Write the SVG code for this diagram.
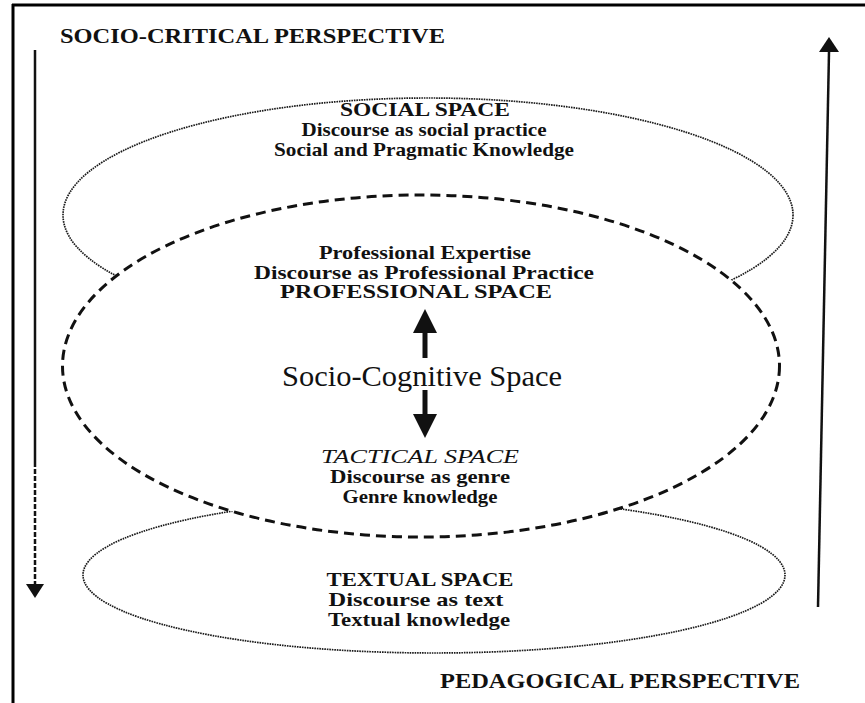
<svg xmlns="http://www.w3.org/2000/svg" width="865" height="703" viewBox="0 0 865 703">
<style>
text{font-family:"Liberation Serif","Times New Roman",serif;fill:#111}
.b{font-weight:bold;font-size:19.5px}
.it{font-style:italic;font-size:19.5px}
.h{font-weight:bold;font-size:20.5px}
.dot{fill:none;stroke:#1a1a1a;stroke-width:1.7;stroke-dasharray:1.6 0.9}
.dash{fill:none;stroke:#111;stroke-width:3;stroke-dasharray:10 6}
.ln{stroke:#111;stroke-width:2.5;fill:none}
</style>
<defs>
<mask id="outside" maskUnits="userSpaceOnUse" x="0" y="0" width="865" height="703">
<rect x="0" y="0" width="865" height="703" fill="#fff"/>
<ellipse cx="421" cy="366" rx="358.5" ry="171" fill="#000"/>
</mask>
</defs>
<rect width="865" height="703" fill="#fff"/>
<g id="frame">
<line x1="12" y1="5" x2="865" y2="5" stroke="#000" stroke-width="3"/>
<line x1="13" y1="4" x2="13" y2="703" stroke="#000" stroke-width="3"/>
</g>
<g id="social-space">
<ellipse class="dot" cx="428" cy="215" rx="365" ry="117" mask="url(#outside)"/>
<text class="b" x="425" y="116" text-anchor="middle" textLength="170" lengthAdjust="spacingAndGlyphs">SOCIAL SPACE</text>
<text class="b" x="424" y="136" text-anchor="middle" textLength="245" lengthAdjust="spacingAndGlyphs">Discourse as social practice</text>
<text class="b" x="424" y="156" text-anchor="middle" textLength="300" lengthAdjust="spacingAndGlyphs">Social and Pragmatic Knowledge</text>
</g>
<g id="socio-cognitive-space">
<ellipse class="dash" cx="421" cy="366" rx="358.5" ry="171"/>
<text class="b" x="425" y="259" text-anchor="middle" textLength="212" lengthAdjust="spacingAndGlyphs">Professional Expertise</text>
<text class="b" x="424" y="279" text-anchor="middle" textLength="340" lengthAdjust="spacingAndGlyphs">Discourse as Professional Practice</text>
<text class="b" x="416" y="298" text-anchor="middle" textLength="272" lengthAdjust="spacingAndGlyphs">PROFESSIONAL SPACE</text>
<text x="422" y="386" text-anchor="middle" font-size="29" textLength="280" lengthAdjust="spacingAndGlyphs">Socio-Cognitive Space</text>
<text class="it" x="420" y="463" text-anchor="middle" textLength="198" lengthAdjust="spacingAndGlyphs">TACTICAL SPACE</text>
<text class="b" x="420" y="483" text-anchor="middle" textLength="180" lengthAdjust="spacingAndGlyphs">Discourse as genre</text>
<text class="b" x="420" y="503" text-anchor="middle" textLength="155" lengthAdjust="spacingAndGlyphs">Genre knowledge</text>
</g>
<g id="textual-space">
<ellipse class="dot" cx="434" cy="575" rx="351" ry="78" mask="url(#outside)"/>
<text class="b" x="420" y="586" text-anchor="middle" textLength="187" lengthAdjust="spacingAndGlyphs">TEXTUAL SPACE</text>
<text class="b" x="416" y="606" text-anchor="middle" textLength="175" lengthAdjust="spacingAndGlyphs">Discourse as text</text>
<text class="b" x="419" y="626" text-anchor="middle" textLength="182" lengthAdjust="spacingAndGlyphs">Textual knowledge</text>
</g>
<g id="socio-critical-perspective">
<text class="h" x="60" y="43" textLength="385" lengthAdjust="spacingAndGlyphs">SOCIO-CRITICAL PERSPECTIVE</text>
</g>
<g id="pedagogical-perspective">
<text class="h" x="440" y="688" textLength="360" lengthAdjust="spacingAndGlyphs">PEDAGOGICAL PERSPECTIVE</text>
</g>
<g id="connectors">
<line class="ln" x1="35" y1="50" x2="35" y2="462"/>
<line class="ln" x1="35" y1="462" x2="35" y2="585" stroke-dasharray="5 2"/>
<polygon points="26,584 44,584 35,598" fill="#111"/>
<line class="ln" x1="818" y1="607" x2="829" y2="52"/>
<polygon points="819,52 839,52 829,37" fill="#111"/>
<line x1="425" y1="330" x2="425" y2="358" stroke="#111" stroke-width="5"/>
<polygon points="413,333 437,333 425,309" fill="#111"/>
<line x1="425" y1="390" x2="425" y2="417" stroke="#111" stroke-width="5"/>
<polygon points="413,414 437,414 425,438" fill="#111"/>
</g>
</svg>
